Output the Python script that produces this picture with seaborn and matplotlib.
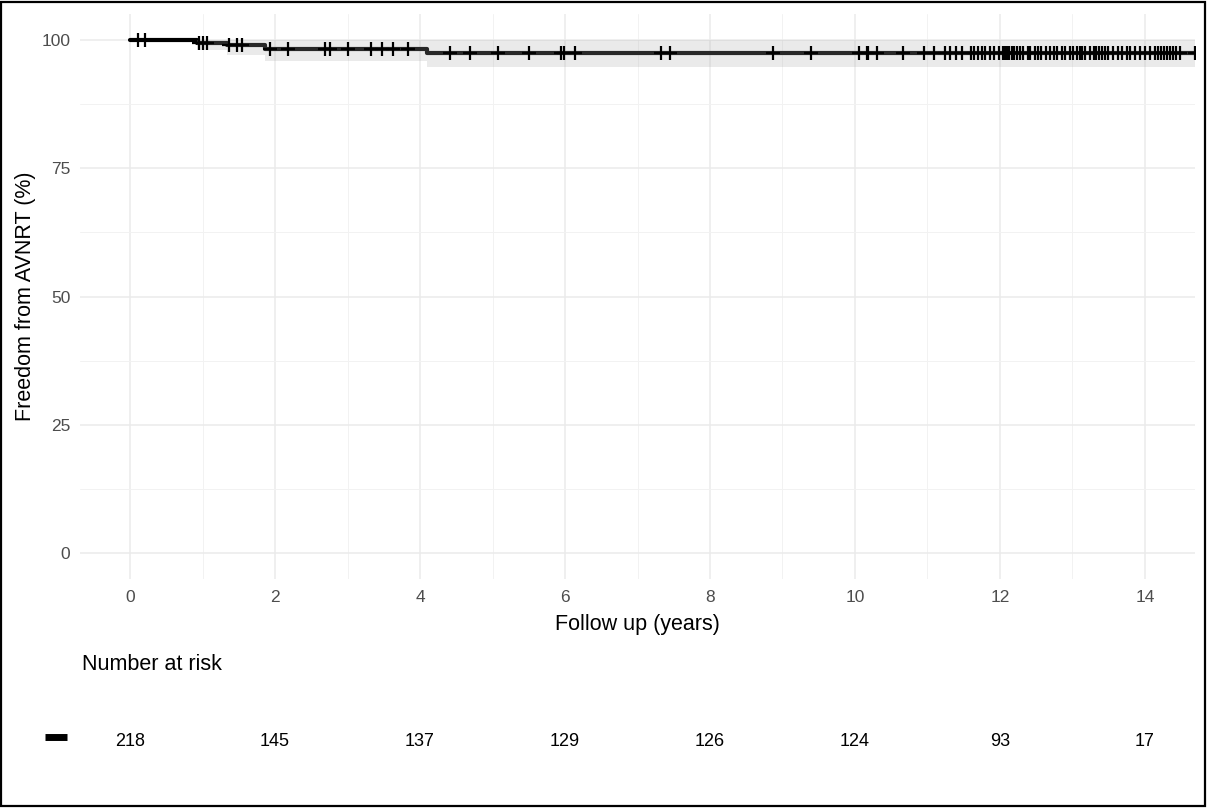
import numpy as np
import pandas as pd
import seaborn as sns
import matplotlib.pyplot as plt
from matplotlib.lines import Line2D
from matplotlib.patches import Rectangle

# Kaplan-Meier step curve (years, % event free)
step_time = [0, 0.92, 1.34, 1.86, 4.10, 14.69]
step_surv = [100, 99.5, 99.0, 98.3, 97.5, 97.5]
ci_lower = [100, 98.1, 97.1, 96.0, 94.8, 94.8]
ci_upper = [100, 100, 100, 100, 100, 100]

# censored observations
censor_time = [0.11, 0.21, 0.95, 1.00, 1.06, 1.36, 1.47, 1.54, 1.93, 2.18,
               2.69, 2.76, 3.01, 3.33, 3.47, 3.63, 3.84, 4.41, 4.69, 5.08,
               5.51, 5.95, 5.98, 6.14, 7.33, 7.45, 8.87, 9.40, 10.05, 10.16,
               10.18, 10.30, 10.66, 10.95, 11.09, 11.24, 11.31, 11.40, 11.47,
               11.60, 11.64, 11.70, 11.75, 11.80, 11.86, 11.92, 11.98, 12.04,
               12.07, 12.10, 12.13, 12.16, 12.20, 12.23, 12.28, 12.32, 12.38,
               12.42, 12.48, 12.53, 12.57, 12.63, 12.69, 12.74, 12.79, 12.85,
               12.90, 12.97, 13.01, 13.06, 13.10, 13.13, 13.17, 13.24, 13.30,
               13.33, 13.37, 13.41, 13.45, 13.49, 13.56, 13.63, 13.68, 13.75,
               13.79, 13.86, 13.93, 14.00, 14.07, 14.14, 14.18, 14.22, 14.26,
               14.30, 14.34, 14.39, 14.43, 14.48, 14.69]

# number at risk table
risk_time = [0, 2, 4, 6, 8, 10, 12, 14]
risk_n = [218, 145, 137, 129, 126, 124, 93, 17]

curve = pd.DataFrame({"time": step_time, "surv": step_surv,
                      "lo": ci_lower, "hi": ci_upper})
# censor marks sit on the curve value at that time
idx = np.searchsorted(step_time, censor_time, side="right") - 1
cens = pd.DataFrame({"time": censor_time,
                     "surv": np.array(step_surv)[idx]})

sns.set_theme(style="whitegrid")
plt.rcParams["font.family"] = ["Liberation Sans", "DejaVu Sans"]

fig = plt.figure(figsize=(12.08, 8.08), dpi=100)
ax = fig.add_axes([80 / 1208, 1 - 578.6 / 808, 1115 / 1208, 564.2 / 808])

sns.lineplot(data=curve, x="time", y="surv", drawstyle="steps-post",
             color="black", linewidth=3, ax=ax, zorder=3)
ax.fill_between(curve["time"], curve["lo"], curve["hi"], step="post",
                color="#A9A9A9", alpha=0.24, linewidth=0, zorder=4)
sns.scatterplot(data=cens, x="time", y="surv", marker="+", s=90,
                color="black", linewidth=1.6, ax=ax, zorder=5)

ax.set_xlim(-0.69, 14.69)
ax.set_ylim(-5, 105)
ax.set_xticks(risk_time)
ax.set_yticks([0, 25, 50, 75, 100])
ax.set_xticks(np.arange(1, 15, 2), minor=True)
ax.set_yticks([12.5, 37.5, 62.5, 87.5], minor=True)
ax.grid(which="major", color="#EBEBEB", linewidth=1.1)
ax.grid(which="minor", color="#F2F2F2", linewidth=0.7)
for s in ax.spines.values():
    s.set_visible(False)
ax.tick_params(which="both", length=0, labelsize=12.5, labelcolor="#4D4D4D")
ax.tick_params(axis="x", pad=8)
ax.tick_params(axis="y", pad=7)
ax.set_xlabel("Follow up (years)", fontsize=15.5, color="black", labelpad=7)
ax.set_ylabel("Freedom from AVNRT (%)", fontsize=15.5, color="black", labelpad=4)

# risk table
rax = fig.add_axes([80 / 1208, 1 - 780 / 808, 1115 / 1208, 80 / 808])
rax.set_xlim(ax.get_xlim())
rax.set_ylim(0, 1)
rax.axis("off")
for t, n in zip(risk_time, risk_n):
    rax.text(t, 0.475, str(n), ha="center", va="center", fontsize=13, color="black")
fig.text(82 / 1208, 1 - 665 / 808, "Number at risk", ha="left", va="center",
         fontsize=15.5, color="black")
fig.add_artist(Line2D([45 / 1208, 67 / 1208], [1 - 737 / 808, 1 - 737 / 808],
                      color="black", linewidth=5, solid_capstyle="butt"))

fig.add_artist(Rectangle((1 / 1208, 2 / 808), 1204 / 1208, 804 / 808,
                         fill=False, edgecolor="black", linewidth=1.6))

fig.savefig("out.png", dpi=100)
